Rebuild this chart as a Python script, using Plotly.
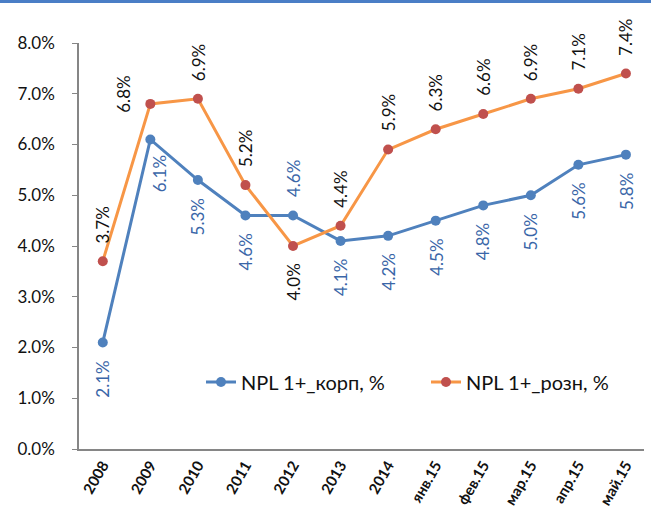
import plotly.graph_objects as go

# Categories and NPL 1+ shares (percent)
periods = ["2008", "2009", "2010", "2011", "2012", "2013", "2014",
           "янв.15", "фев.15", "мар.15", "апр.15", "май.15"]
npl_corp = [2.1, 6.1, 5.3, 4.6, 4.6, 4.1, 4.2, 4.5, 4.8, 5.0, 5.6, 5.8]
npl_retail = [3.7, 6.8, 6.9, 5.2, 4.0, 4.4, 5.9, 6.3, 6.6, 6.9, 7.1, 7.4]

corp_name = "NPL 1+_корп, %"
retail_name = "NPL 1+_розн, %"

# where each value label sits relative to its point
corp_side = ["below"] * 12
corp_side[1] = "below_right"
corp_side[4] = "above"
retail_side = ["above"] * 12
retail_side[1] = "left"
retail_side[4] = "below"

BLUE = "#4F81BD"
ORANGE = "#F79646"
RED = "#C0504D"
LABEL_BLUE = "#3A66A8"
FONT = "Lato, 'Open Sans', sans-serif"

fig = go.Figure()
fig.add_trace(go.Scatter(
    x=periods, y=[v / 100 for v in npl_corp], name=corp_name,
    mode="lines+markers",
    line=dict(color=BLUE, width=3),
    marker=dict(color=BLUE, size=10),
))
fig.add_trace(go.Scatter(
    x=periods, y=[v / 100 for v in npl_retail], name=retail_name,
    mode="lines+markers",
    line=dict(color=ORANGE, width=3),
    marker=dict(color=RED, size=10),
))


def add_labels(values, sides, color):
    # category axis: annotations are placed by category index
    for i, (v, side) in enumerate(zip(values, sides)):
        kw = dict(x=i, y=v / 100, text=f"{v:.1f}%", showarrow=False,
                  textangle=-90, font=dict(family=FONT, size=17, color=color))
        if side == "above":
            kw.update(yanchor="bottom", xanchor="center", yshift=16)
        elif side == "below":
            kw.update(yanchor="top", xanchor="center", yshift=-16)
        elif side == "below_right":
            kw.update(yanchor="top", xanchor="center", yshift=-14, xshift=10)
        else:
            kw.update(yanchor="middle", xanchor="right", xshift=-14, yshift=10)
        fig.add_annotation(**kw)


add_labels(npl_corp, corp_side, LABEL_BLUE)
add_labels(npl_retail, retail_side, "#111111")

# thin blue band along the top edge
fig.add_shape(type="rect", xref="paper", yref="paper",
              x0=-0.2, x1=1.1, y0=1.0985, y1=1.13,
              fillcolor="#4A7EC6", line=dict(width=0), layer="above")

fig.update_layout(
    width=651, height=532,
    margin=dict(l=79, r=0, t=43, b=83),
    paper_bgcolor="white", plot_bgcolor="white",
    font=dict(family=FONT, color="#111111"),
    showlegend=True,
    legend=dict(orientation="h", x=0.216, y=0.165, xanchor="left", yanchor="middle",
                font=dict(family=FONT, size=20, color="#111111"),
                entrywidth=180, entrywidthmode="pixels",
                bgcolor="rgba(0,0,0,0)", tracegroupgap=0),
    xaxis=dict(type="category", range=[-0.5, 11.38],
               showgrid=False, zeroline=False,
               showline=True, linecolor="#868686", linewidth=1.5,
               ticks="", tickangle=-60,
               tickfont=dict(family=FONT, size=15, color="#111111", weight="bold")),
    yaxis=dict(range=[0, 0.08], dtick=0.01, tickformat=".1%",
               showgrid=False, zeroline=False,
               showline=True, linecolor="#868686", linewidth=1.5,
               ticks="outside", ticklen=5, tickcolor="#868686",
               ticklabelstandoff=14,
               tickfont=dict(family=FONT, size=17, color="#111111")),
)

fig.write_html("out.html")
